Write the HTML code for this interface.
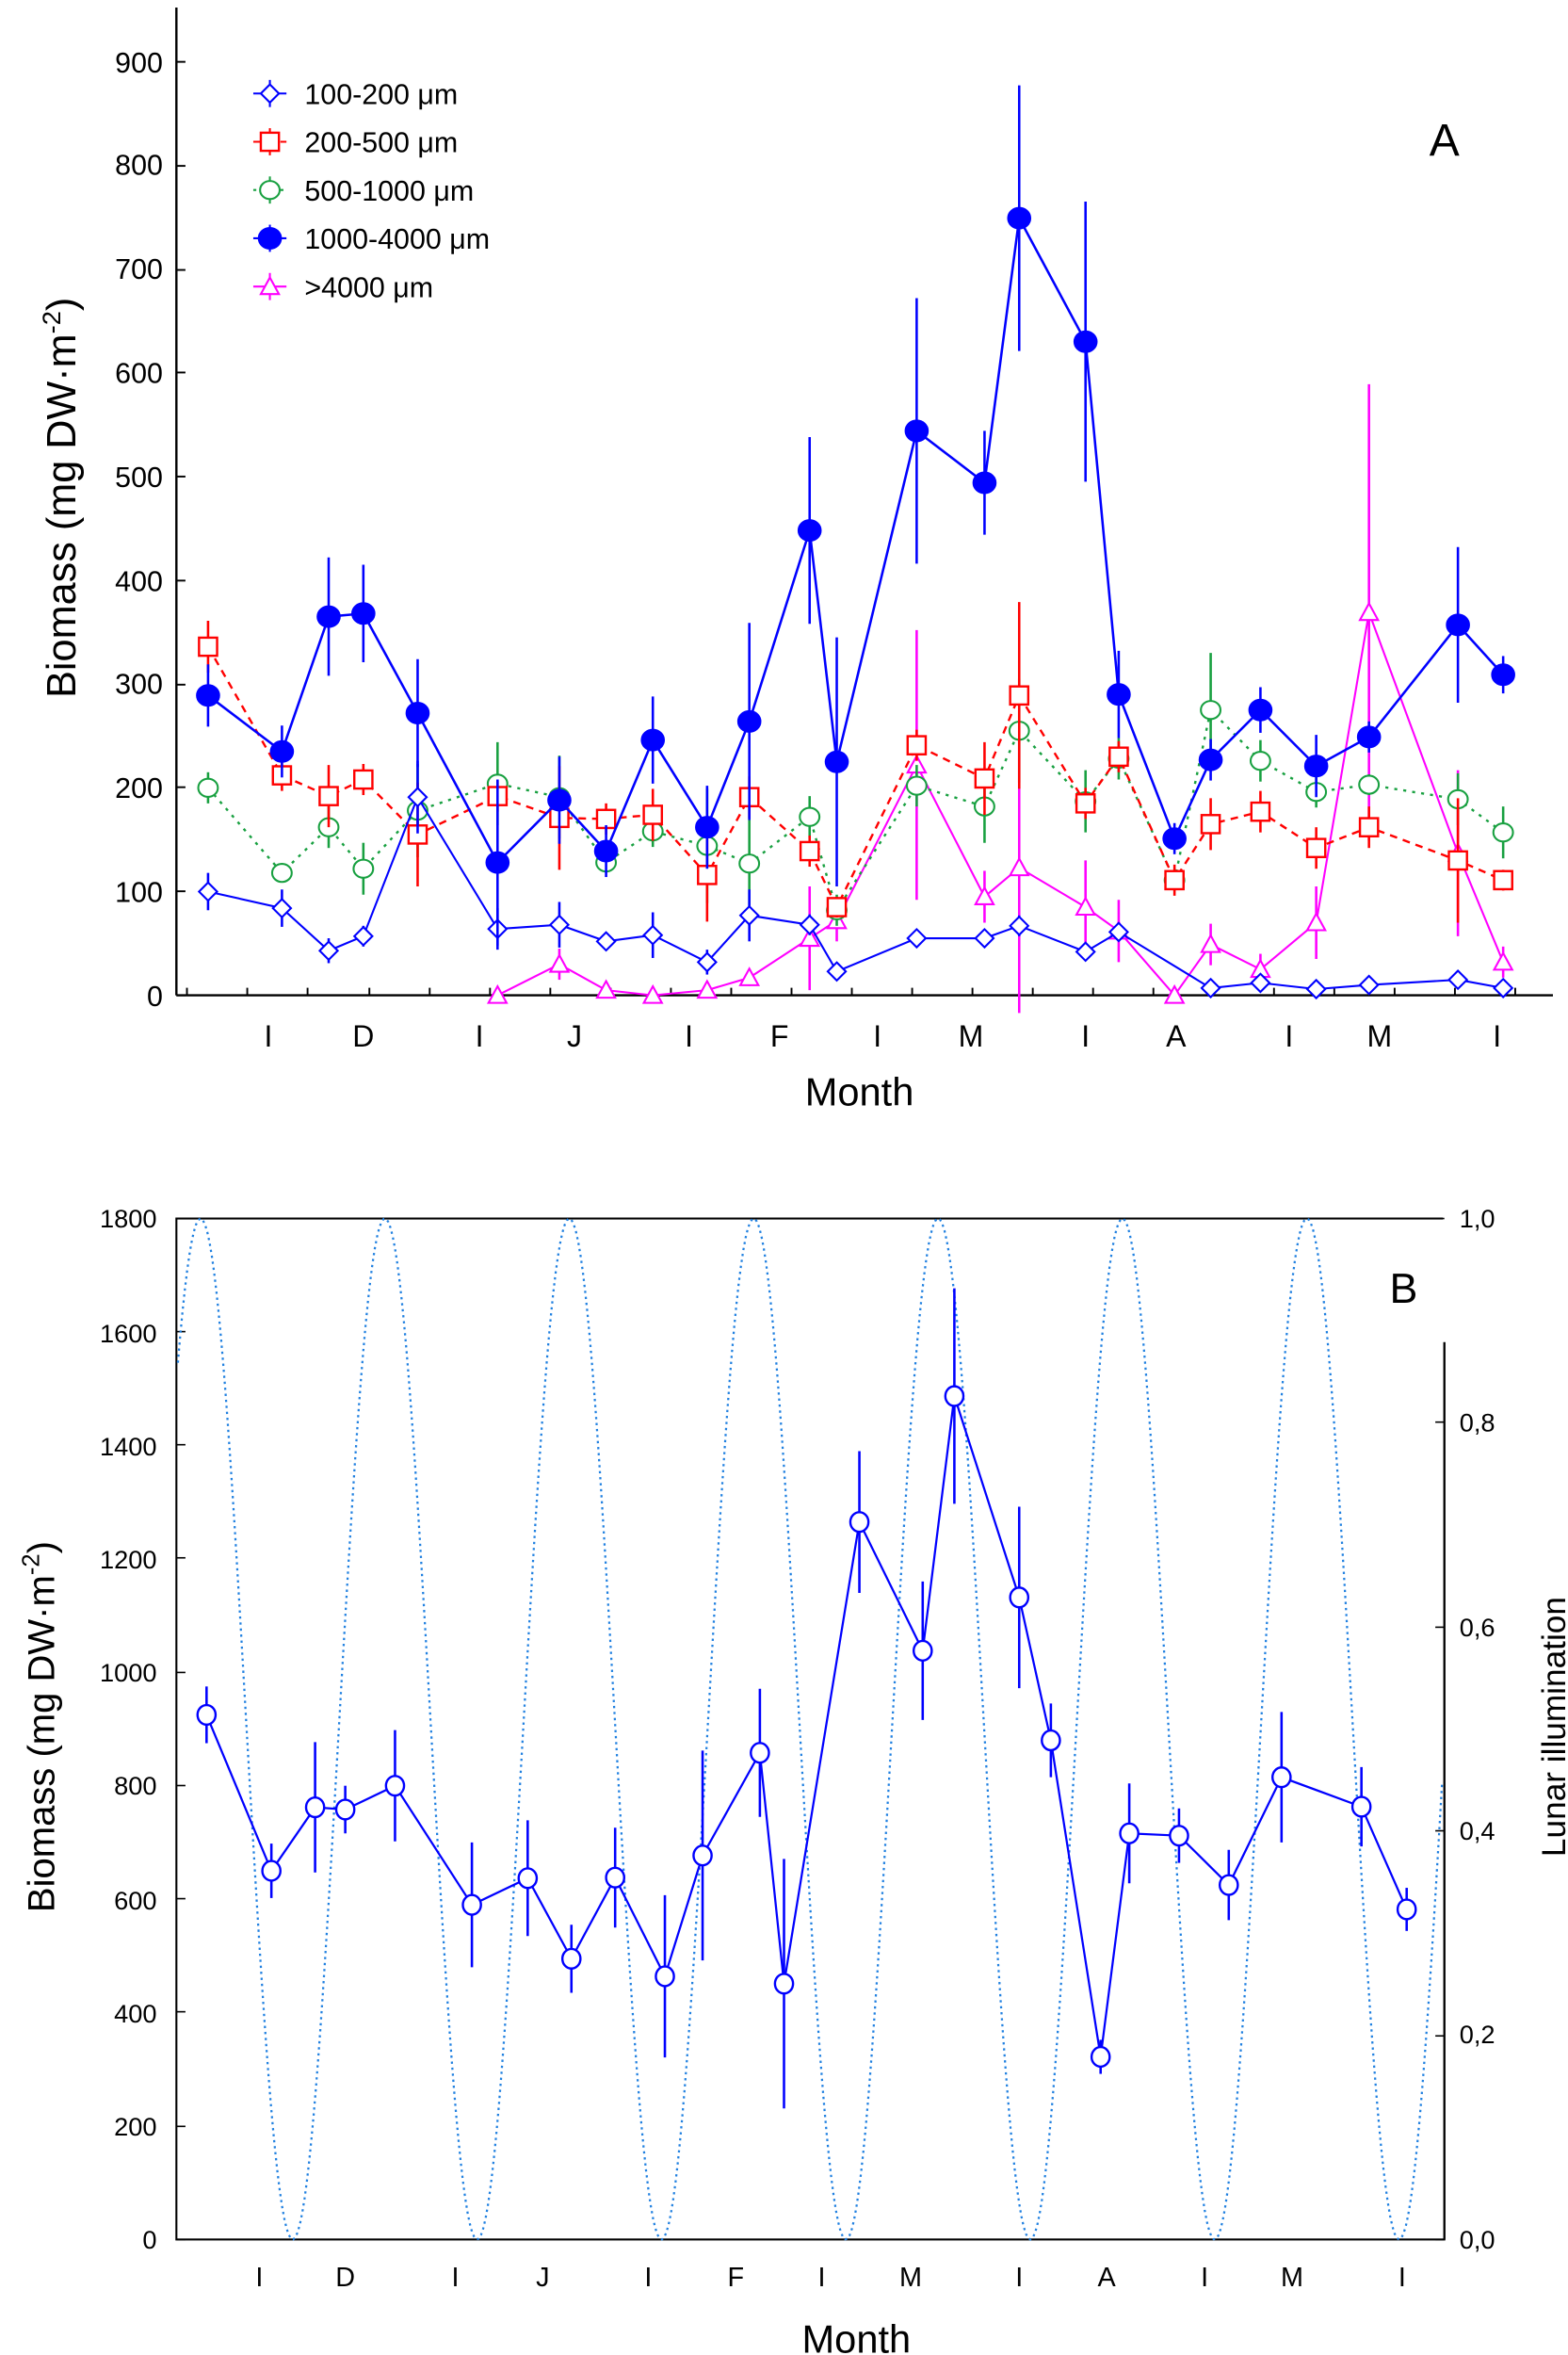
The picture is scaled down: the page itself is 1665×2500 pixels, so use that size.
<!DOCTYPE html>
<html><head><meta charset="utf-8">
<style>
html,body{margin:0;padding:0;background:#fff;}
svg{display:block;}
text{font-family:"Liberation Sans",sans-serif;fill:#000;}
</style></head>
<body>
<svg id="s" width="1665" height="2500" viewBox="0 0 1040 1561.6" preserveAspectRatio="none" xmlns="http://www.w3.org/2000/svg">
<line x1="117" y1="5" x2="117" y2="660" stroke="#000" stroke-width="1.5"/>
<line x1="117" y1="660" x2="1030" y2="660" stroke="#000" stroke-width="1.5"/>
<g font-size="19" text-anchor="end">
<text x="108" y="667">0</text><text x="108" y="598">100</text><text x="108" y="529">200</text>
<text x="108" y="460">300</text><text x="108" y="392">400</text><text x="108" y="323">500</text>
<text x="108" y="254">600</text><text x="108" y="185">700</text><text x="108" y="116">800</text>
<text x="108" y="48">900</text>
</g>
<g font-size="20" text-anchor="middle">
<text x="178" y="694">I</text><text x="241" y="694">D</text><text x="318" y="694">I</text>
<text x="381" y="694">J</text><text x="457" y="694">I</text><text x="517" y="694">F</text>
<text x="582" y="694">I</text><text x="644" y="694">M</text><text x="720" y="694">I</text>
<text x="780" y="694">A</text><text x="855" y="694">I</text><text x="915" y="694">M</text>
<text x="993" y="694">I</text>
</g>
<text x="570" y="733" font-size="26" text-anchor="middle">Month</text>
<text transform="translate(50,330) rotate(-90)" font-size="27" text-anchor="middle">Biomass (mg DW·m<tspan dy="-10" font-size="17">-2</tspan><tspan dy="10">)</tspan></text>
<text x="958" y="103" font-size="30" text-anchor="middle">A</text>
<g font-size="19">
<text x="202" y="69">100-200 μm</text><text x="202" y="101">200-500 μm</text>
<text x="202" y="133">500-1000 μm</text><text x="202" y="165">1000-4000 μm</text>
<text x="202" y="197">&gt;4000 μm</text>
</g>
<rect x="117" y="808" width="841" height="677" fill="none" stroke="#000" stroke-width="1.3"/>
<rect x="957" y="806" width="4" height="84" fill="#fff"/>
<line x1="958" y1="890" x2="958" y2="1485" stroke="#000" stroke-width="1.3"/>
<g font-size="17" text-anchor="end">
<text x="104" y="1491">0</text><text x="104" y="1416">200</text><text x="104" y="1341">400</text>
<text x="104" y="1266">600</text><text x="104" y="1190">800</text><text x="104" y="1115">1000</text>
<text x="104" y="1040">1200</text><text x="104" y="965">1400</text><text x="104" y="890">1600</text>
<text x="104" y="814">1800</text>
</g>
<g font-size="17">
<text x="968" y="1491">0,0</text><text x="968" y="1355">0,2</text><text x="968" y="1220">0,4</text>
<text x="968" y="1085">0,6</text><text x="968" y="949">0,8</text><text x="968" y="814">1,0</text>
</g>
<g font-size="18" text-anchor="middle">
<text x="172" y="1516">I</text><text x="229" y="1516">D</text><text x="302" y="1516">I</text>
<text x="360" y="1516">J</text><text x="430" y="1516">I</text><text x="488" y="1516">F</text>
<text x="545" y="1516">I</text><text x="604" y="1516">M</text><text x="676" y="1516">I</text>
<text x="734" y="1516">A</text><text x="799" y="1516">I</text><text x="857" y="1516">M</text>
<text x="930" y="1516">I</text>
</g>
<text x="568" y="1560" font-size="26" text-anchor="middle">Month</text>
<text transform="translate(36,1145) rotate(-90)" font-size="25" text-anchor="middle">Biomass (mg DW·m<tspan dy="-10" font-size="16">-2</tspan><tspan dy="10">)</tspan></text>
<text transform="translate(1038,1145) rotate(-90)" font-size="22" text-anchor="middle">Lunar illumination</text>
<text x="931" y="864" font-size="28" text-anchor="middle">B</text>
<g id="dyn"></g>
</svg>
<script>
var NS="http://www.w3.org/2000/svg",g=document.getElementById("dyn");
function el(t,a){var e=document.createElementNS(NS,t);for(var k in a)e.setAttribute(k,a[k]);g.appendChild(e);return e;}
[124,164,204,245,285,325,365,405,445,485,525,565,605,645,685,725,765,805,845,885,925,965,1005].forEach(function(x){el("line",{x1:x,y1:660,x2:x,y2:655,stroke:"#000","stroke-width":1.2});});
[41,110,179,247,316,385,454,522,591,660].forEach(function(y){el("line",{x1:117,y1:y,x2:123,y2:y,stroke:"#000","stroke-width":1.2});});
function yA(v){return 660-v*0.688;}
function marker(type,x,y,c){
 if(type=="d")el("path",{d:"M"+x+","+(y-6)+"L"+(x+6)+","+y+"L"+x+","+(y+6)+"L"+(x-6)+","+y+"Z",fill:"#fff",stroke:c,"stroke-width":1.3});
 else if(type=="s")el("rect",{x:x-6,y:y-6,width:12,height:12,fill:"#fff",stroke:c,"stroke-width":1.5});
 else if(type=="c")el("ellipse",{cx:x,cy:y,rx:6.5,ry:6,fill:"#fff",stroke:c,"stroke-width":1.3});
 else if(type=="f")el("ellipse",{cx:x,cy:y,rx:7.5,ry:7,fill:c,stroke:c});
 else if(type=="t")el("path",{d:"M"+x+","+(y-6)+"L"+(x+6)+","+(y+5)+"L"+(x-6)+","+(y+5)+"Z",fill:"#fff",stroke:c,"stroke-width":1.3});
}
function series(d,c,type,dash,yf,lw){
 var p=d.map(function(q){return q[0]+","+yf(q[1]);}).join(" ");
 var a={points:p,fill:"none",stroke:c,"stroke-width":lw||1.5};if(dash)a["stroke-dasharray"]=dash;
 el("polyline",a);
 d.forEach(function(q){var e=q[2]||8;el("line",{x1:q[0],y1:yf(q[1]-e),x2:q[0],y2:yf(q[1]+e),stroke:c,"stroke-width":1.6});});
 d.forEach(function(q){marker(type,q[0],yf(q[1]),c);});
}
var mag=[[330,0,2],[371,30,15],[402,5,5],[433,0,2],[469,5,5],[497,17,8],[537,55,50],[555,72,20],[608,222,130],[653,95,25],[676,123,140],[720,85,45],[742,62,30],[779,0,2],[803,49,20],[836,25,15],[873,70,35],[908,369,220],[967,137,80],[997,32,15]];
var grn=[[138,200,15],[187,118,8],[218,162,20],[241,122,25],[277,178,45],[330,204,40],[371,191,40],[402,128,10],[433,158,15],[469,144,55],[497,127,60],[537,172,20],[555,82,15],[608,202,20],[653,182,35],[676,255,50],[720,187,30],[742,228,20],[779,111,10],[803,275,55],[836,226,20],[873,196,15],[908,203,10],[967,189,25],[997,157,25]];
var red=[[138,336,25],[187,212,15],[218,192,30],[241,208,15],[277,155,50],[330,192,15],[371,171,50],[402,170,15],[433,174,25],[469,116,45],[497,191,20],[537,139,15],[555,85,10],[608,241,15],[653,209,35],[676,289,90],[720,185,15],[742,230,15],[779,111,15],[803,165,25],[836,177,20],[873,142,20],[908,162,20],[967,130,60],[997,111,10]];
var blue1=[[138,100,18],[187,84,18],[218,43,12],[241,57,10],[277,191,35],[330,64,20],[371,68,22],[402,52,8],[433,58,22],[469,32,12],[497,77,25],[537,68,10],[555,23,8],[608,55,8],[653,55,8],[676,67,10],[720,42,8],[742,61,8],[803,7,4],[836,12,4],[873,6,3],[908,10,3],[967,15,4],[997,7,3]];
var big=[[138,289,30],[187,235,25],[218,365,57],[241,368,47],[277,272,52],[330,128,80],[371,188,42],[402,139,25],[433,246,42],[469,162,40],[497,264,95],[537,448,90],[555,225,120],[608,544,128],[653,494,50],[676,749,128],[720,630,135],[742,290,42],[779,151,15],[803,227,20],[836,275,22],[873,221,30],[908,249,15],[967,357,75],[997,309,18]];
series(mag,"#ff00ff","t",null,yA,1.3);
series(grn,"#18a040","c","2,4",yA,1.5);
series(red,"#ff0000","s","5,4",yA,1.5);
series(blue1,"#0000ff","d",null,yA,1.3);
series(big,"#0000ff","f",null,yA,1.6);
[[62,"d","#0000ff",null],[94,"s","#ff0000","5,4"],[126,"c","#18a040","2,4"],[158,"f","#0000ff",null],[190,"t","#ff00ff",null]].forEach(function(l){
 var a={x1:168,y1:l[0],x2:190,y2:l[0],stroke:l[2],"stroke-width":1.3};if(l[3])a["stroke-dasharray"]=l[3];el("line",a);
 el("line",{x1:179,y1:l[0]-9,x2:179,y2:l[0]+9,stroke:l[2],"stroke-width":1.3});
 marker(l[1],179,l[0],l[2]);
});
[808,883,958,1033,1109,1184,1259,1334,1410,1485].forEach(function(y){el("line",{x1:117,y1:y,x2:123,y2:y,stroke:"#000"});});
[1485,1350,1214,1079,943,808].forEach(function(y){el("line",{x1:952,y1:y,x2:958,y2:y,stroke:"#000"});});
var pts=[];for(var x=118;x<=957;x+=1.5){var v=0.5+0.5*Math.cos(2*Math.PI*(x-133)/122.3);pts.push(x+","+(1485-v*677));}
el("polyline",{points:pts.join(" "),fill:"none",stroke:"#2080e0","stroke-width":1.4,"stroke-dasharray":"1.5,2.5"});
function yB(v){return 1485-v*0.3761;}
var B=[[137,925,50],[180,650,48],[209,762,115],[229,758,42],[262,800,98],[313,590,110],[350,637,102],[379,495,60],[408,638,88],[441,464,143],[466,677,185],[504,858,113],[520,451,220],[570,1265,125],[612,1038,122],[633,1487,190],[676,1132,160],[697,880,65],[730,322,30],[749,716,88],[782,712,48],[815,625,62],[850,815,115],[903,763,70],[933,582,38]];
var p=B.map(function(q){return q[0]+","+yB(q[1]);}).join(" ");
el("polyline",{points:p,fill:"none",stroke:"#0000ff","stroke-width":1.4});
B.forEach(function(q){el("line",{x1:q[0],y1:yB(q[1]-q[2]),x2:q[0],y2:yB(q[1]+q[2]),stroke:"#0000ff","stroke-width":1.6});});
B.forEach(function(q){el("ellipse",{cx:q[0],cy:yB(q[1]),rx:6,ry:6.5,fill:"#fff",stroke:"#0000ff","stroke-width":1.5});});
</script>
</body></html>
